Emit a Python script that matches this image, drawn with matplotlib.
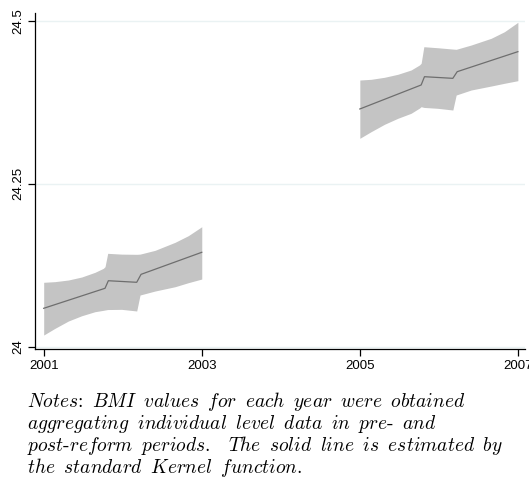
import matplotlib
matplotlib.use("Agg")
import matplotlib.pyplot as plt

plt.rcParams['font.family'] = ['Liberation Sans', 'DejaVu Sans']
plt.rcParams['mathtext.fontset'] = 'cm'

# Pre-reform group (2001-2003): confidence band
pre_band_x = [2001.000, 2001.143, 2001.312, 2001.481, 2001.649, 2001.755, 2001.776, 2001.810,
              2001.987, 2002.177, 2002.219, 2002.409, 2002.662, 2002.830, 2003.000]
pre_upper = [24.0988, 24.0998, 24.1023, 24.1069, 24.1141, 24.1202, 24.1227, 24.1432,
             24.1420, 24.1417, 24.1420, 24.1478, 24.1601, 24.1703, 24.1840]
pre_lower = [24.0179, 24.0282, 24.0394, 24.0475, 24.0537, 24.0558, 24.0563, 24.0570,
             24.0573, 24.0548, 24.0793, 24.0854, 24.0920, 24.0982, 24.1038]
# Pre-reform kernel estimate
pre_line_x = [2001.000, 2001.776, 2001.818, 2002.177, 2002.232, 2003.000]
pre_line = [24.0589, 24.0896, 24.1012, 24.0988, 24.1110, 24.1448]

# Post-reform group (2005-2007): confidence band
post_band_x = [2005.000, 2005.143, 2005.312, 2005.481, 2005.649, 2005.755, 2005.776, 2005.810,
               2005.987, 2006.177, 2006.219, 2006.409, 2006.662, 2006.830, 2007.000]
post_upper = [24.4090, 24.4101, 24.4132, 24.4178, 24.4244, 24.4321, 24.4347, 24.4601,
              24.4585, 24.4565, 24.4561, 24.4627, 24.4730, 24.4831, 24.4975]
post_lower = [24.3196, 24.3298, 24.3411, 24.3503, 24.3580, 24.3660, 24.3681, 24.3670,
              24.3656, 24.3630, 24.3860, 24.3937, 24.3998, 24.4040, 24.4080]
# Post-reform kernel estimate
post_line_x = [2005.000, 2005.776, 2005.818, 2006.177, 2006.232, 2007.000]
post_line = [24.3646, 24.4014, 24.4141, 24.4116, 24.4218, 24.4525]

x_ticks = [2001, 2003, 2005, 2007]
y_ticks = [24, 24.25, 24.5]
y_tick_labels = ['24', '24.25', '24.5']

GAP = r'\ \:'
notes_words = [
    ['Notes\\text{:}', 'BMI', 'values', 'for', 'each', 'year', 'were', 'obtained'],
    ['aggregating', 'individual', 'level', 'data', 'in', 'pre\\text{-}', 'and'],
    ['post\\text{-}reform', 'periods.', '\\ The', 'solid', 'line', 'is', 'estimated', 'by'],
    ['the', 'standard', 'Kernel', 'function.'],
]

W, H = 529, 478
fig = plt.figure(figsize=(W / 100, H / 100), dpi=100)
ax = fig.add_axes([35 / W, (H - 349) / H, (525 - 35) / W, (349 - 13) / H])

band_color = '#c4c4c4'
line_color = '#6e6e6e'
for bx, lo, up, lx, ly in [(pre_band_x, pre_lower, pre_upper, pre_line_x, pre_line),
                           (post_band_x, post_lower, post_upper, post_line_x, post_line)]:
    ax.fill_between(bx, lo, up, color=band_color, linewidth=0, zorder=2)
    ax.plot(lx, ly, color=line_color, linewidth=0.9, zorder=3)

ax.set_xlim(2000.89, 2007.09)
ax.set_ylim(23.9965, 24.5118)
ax.set_xticks(x_ticks)
ax.set_xticklabels([str(t) for t in x_ticks])
ax.set_yticks(y_ticks)
ax.set_yticklabels(y_tick_labels, rotation=90, va='center')

ax.grid(axis='y', color='#eaf2f3', linewidth=1.0, zorder=0)
ax.set_axisbelow(True)
for s in ['top', 'right']:
    ax.spines[s].set_visible(False)
for s in ['left', 'bottom']:
    ax.spines[s].set_color('black')
    ax.spines[s].set_linewidth(0.9)
ax.tick_params(axis='both', direction='out', length=5, width=0.9, color='black',
               labelsize=9.5, pad=3)

baselines = [407.0, 428.8, 450.6, 473.2]
for words, yb in zip(notes_words, baselines):
    txt = GAP.join(words)
    fig.text(27 / W, 1 - yb / H, r'$\mathit{' + txt + '}$', fontsize=14,
             va='baseline', ha='left')

fig.savefig('out.png', dpi=100)
